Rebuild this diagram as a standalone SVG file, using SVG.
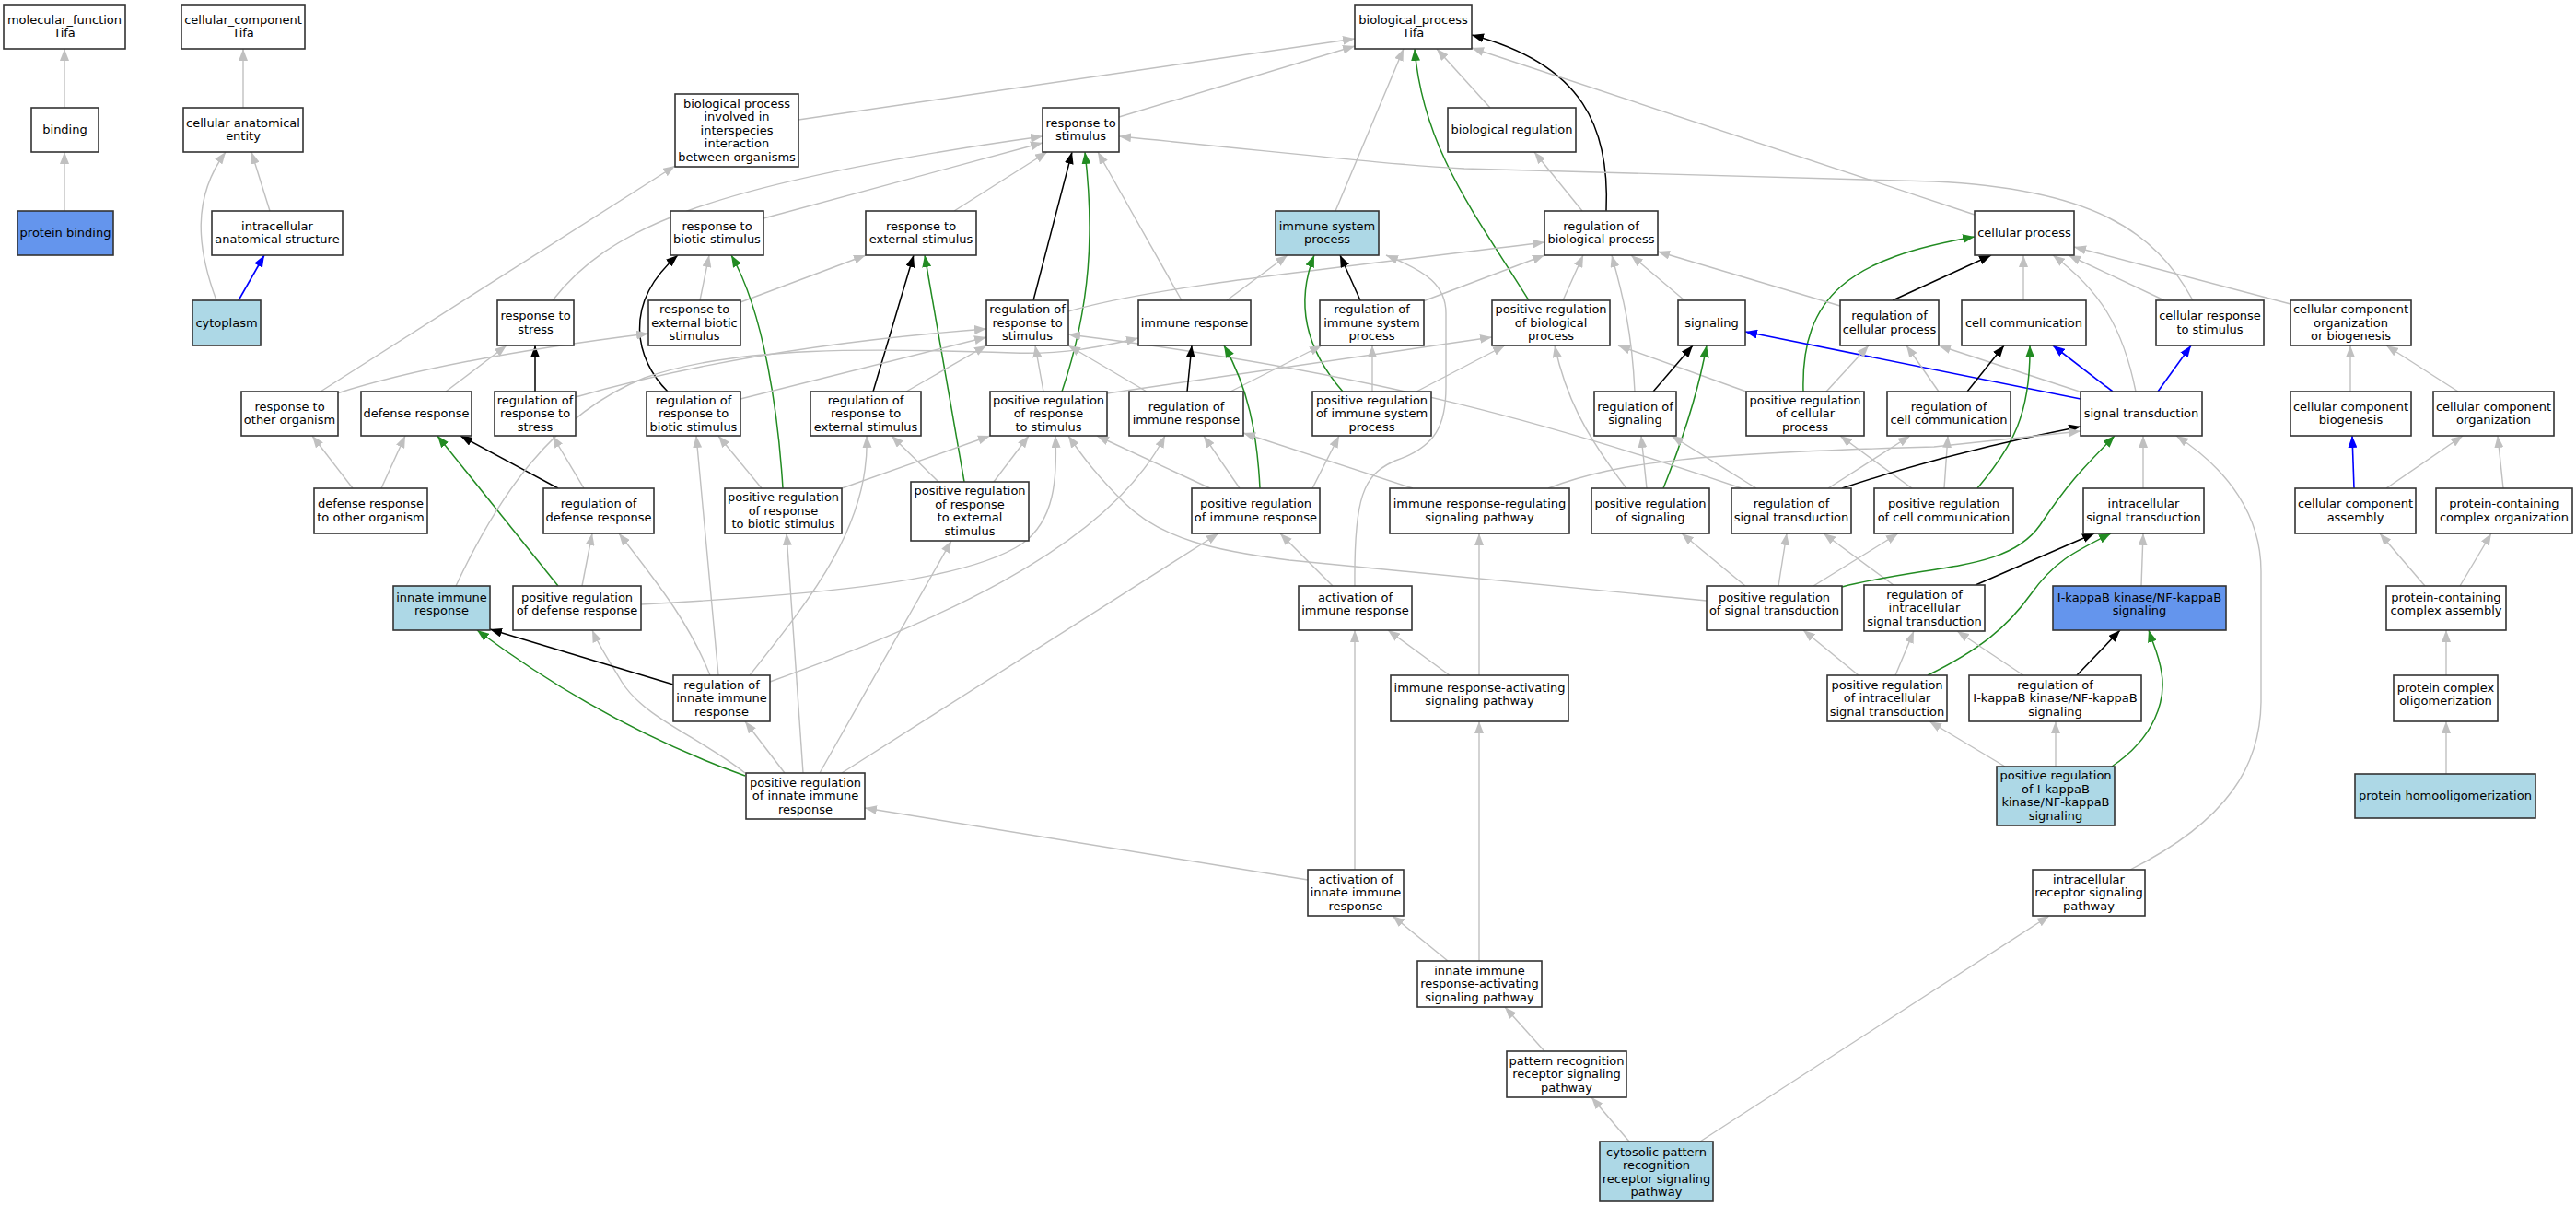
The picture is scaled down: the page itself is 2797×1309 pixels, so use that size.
<svg xmlns="http://www.w3.org/2000/svg" width="2797" height="1309" viewBox="0 0 2797 1309">
<style>
text{font-family:"DejaVu Sans",sans-serif;font-size:13px;text-anchor:middle;fill:#000}
.node rect{fill:#fff;stroke:#333;stroke-width:1.6}
.node.lb rect{fill:#add8e6}
.node.cb rect{fill:#6495ed}
#edges path{fill:none}
.e{stroke:#c0c0c0;stroke-width:1.4;marker-end:url(#ae)}
.k{stroke:#000;stroke-width:1.5;marker-end:url(#ak)}
.g{stroke:#228b22;stroke-width:1.5;marker-end:url(#ag)}
.b{stroke:#0000ff;stroke-width:1.6;marker-end:url(#ab)}
</style>
<defs>
<marker id="ae" markerUnits="userSpaceOnUse" viewBox="0 0 13 10" refX="13" refY="5" markerWidth="13" markerHeight="10" orient="auto"><path d="M0,0L13,5L0,10z" fill="#c0c0c0"/></marker>
<marker id="ak" markerUnits="userSpaceOnUse" viewBox="0 0 13 10" refX="13" refY="5" markerWidth="13" markerHeight="10" orient="auto"><path d="M0,0L13,5L0,10z" fill="#000"/></marker>
<marker id="ag" markerUnits="userSpaceOnUse" viewBox="0 0 13 10" refX="13" refY="5" markerWidth="13" markerHeight="10" orient="auto"><path d="M0,0L13,5L0,10z" fill="#228b22"/></marker>
<marker id="ab" markerUnits="userSpaceOnUse" viewBox="0 0 13 10" refX="13" refY="5" markerWidth="13" markerHeight="10" orient="auto"><path d="M0,0L13,5L0,10z" fill="#0000ff"/></marker>
</defs>
<rect width="2797" height="1309" fill="#fff"/>
<g id="edges">
<path class="e" d="M70,117L70,53"/>
<path class="e" d="M70,229L70,165"/>
<path class="e" d="M264,117L264,53"/>
<path class="e" d="M235,326C214,270 208,215 245,165"/>
<path class="e" d="M293,229L273,165"/>
<path class="b" d="M259,326L287,277"/>
<path class="e" d="M867,130L1471,42"/>
<path class="e" d="M1215,127L1471,50"/>
<path class="e" d="M1450,229L1524,53"/>
<path class="g" d="M1660,326C1600,230 1545,160 1536,53"/>
<path class="e" d="M1618,117L1560,53"/>
<path class="k" d="M1744,229C1748,140 1720,70 1598,38"/>
<path class="e" d="M2144,233L1598,52"/>
<path class="e" d="M1718,229L1666,165"/>
<path class="e" d="M829,237L1132,155"/>
<path class="e" d="M1036,229L1137,165"/>
<path class="k" d="M1122,326L1164,165"/>
<path class="g" d="M1153,425C1185,330 1188,250 1178,165"/>
<path class="e" d="M1283,326L1192,165"/>
<path class="e" d="M600,326C660,250 760,200 1132,148"/>
<path class="e" d="M348,425L733,180"/>
<path class="e" d="M2381,326C2340,250 2270,205 2100,197L1590,183C1500,178 1420,168 1215,148"/>
<path class="k" d="M2055,326L2162,277"/>
<path class="e" d="M2197,326L2197,277"/>
<path class="g" d="M1958,425C1955,320 2010,280 2144,257"/>
<path class="e" d="M2319,425C2305,355 2280,315 2229,277"/>
<path class="e" d="M2350,326L2246,277"/>
<path class="e" d="M2487,330L2252,268"/>
<path class="e" d="M1160,338C1250,312 1400,297 1677,263"/>
<path class="e" d="M1545,327L1677,277"/>
<path class="e" d="M1697,326L1719,277"/>
<path class="e" d="M1775,425C1772,360 1762,320 1750,277"/>
<path class="e" d="M1829,326L1771,277"/>
<path class="e" d="M1998,332L1800,273"/>
<path class="k" d="M1477,326L1455,277"/>
<path class="g" d="M1458,425C1410,370 1410,320 1427,277"/>
<path class="e" d="M1332,326L1398,277"/>
<path class="e" d="M1471,636C1470,540 1480,515 1515,500C1560,485 1570,460 1570,420L1570,340C1570,310 1550,295 1505,277"/>
<path class="e" d="M1490,425L1490,375"/>
<path class="e" d="M1336,425L1435,375"/>
<path class="e" d="M1538,425L1634,375"/>
<path class="e" d="M1202,427L1620,366"/>
<path class="e" d="M1766,530C1720,470 1700,430 1688,375"/>
<path class="e" d="M1896,425L1757,375"/>
<path class="b" d="M2259,433L1895,360"/>
<path class="b" d="M2294,425L2229,375"/>
<path class="b" d="M2343,425L2379,375"/>
<path class="e" d="M2258,425L2105,375"/>
<path class="k" d="M1795,425L1838,375"/>
<path class="g" d="M1806,530C1830,470 1845,420 1853,375"/>
<path class="e" d="M1983,425L2029,375"/>
<path class="e" d="M2105,425L2070,375"/>
<path class="k" d="M2136,425L2176,375"/>
<path class="g" d="M2147,530C2185,485 2205,450 2204,375"/>
<path class="e" d="M2111,530L2115,473"/>
<path class="e" d="M1985,530L2074,473"/>
<path class="e" d="M1907,530L1815,473"/>
<path class="e" d="M1788,530L1782,473"/>
<path class="e" d="M2076,530L1998,473"/>
<path class="e" d="M1895,636L1826,579"/>
<path class="e" d="M1931,636L1940,579"/>
<path class="e" d="M2056,635L1980,579"/>
<path class="e" d="M1969,636L2061,579"/>
<path class="g" d="M2000,637C2100,612 2180,620 2215,570C2245,525 2260,510 2296,473"/>
<path class="e" d="M2327,530L2327,473"/>
<path class="e" d="M2313,944C2420,890 2455,830 2455,760L2455,620C2455,560 2420,510 2363,473"/>
<path class="k" d="M2000,530Q2120,490 2259,463"/>
<path class="e" d="M1681,530C1760,500 1850,492 2100,485L2259,468"/>
<path class="k" d="M2145,635L2274,579"/>
<path class="g" d="M2093,733C2150,705 2180,680 2205,645C2230,610 2250,600 2292,579"/>
<path class="e" d="M2325,636L2327,579"/>
<path class="k" d="M2255,733L2302,684"/>
<path class="g" d="M2293,832C2340,800 2352,760 2347,730C2344,710 2338,700 2333,684"/>
<path class="e" d="M2232,832L2232,783"/>
<path class="e" d="M2177,832L2095,783"/>
<path class="e" d="M2197,733L2125,685"/>
<path class="e" d="M2058,733L2078,685"/>
<path class="e" d="M2018,733L1958,684"/>
<path class="e" d="M2552,425L2552,375"/>
<path class="e" d="M2669,425L2591,375"/>
<path class="b" d="M2556,530L2554,473"/>
<path class="e" d="M2591,530L2674,473"/>
<path class="e" d="M2718,530L2712,473"/>
<path class="e" d="M2633,636L2584,579"/>
<path class="e" d="M2671,636L2705,579"/>
<path class="e" d="M2656,733L2656,684"/>
<path class="e" d="M2656,840L2656,783"/>
<path class="e" d="M484,425L550,375"/>
<path class="k" d="M581,425L581,375"/>
<path class="e" d="M760,326L770,277"/>
<path class="e" d="M804,328L940,277"/>
<path class="k" d="M725,425C690,390 675,330 736,277"/>
<path class="g" d="M850,530C845,450 830,340 794,277"/>
<path class="k" d="M948,425L992,277"/>
<path class="g" d="M1047,523L1004,277"/>
<path class="e" d="M366,427C450,400 560,380 704,362"/>
<path class="e" d="M383,530L339,473"/>
<path class="e" d="M414,530L440,473"/>
<path class="k" d="M606,530L500,473"/>
<path class="e" d="M634,530L600,473"/>
<path class="g" d="M606,636L475,473"/>
<path class="e" d="M632,636L643,579"/>
<path class="e" d="M771,733C750,680 720,640 672,579"/>
<path class="e" d="M809,839C760,800 700,780 675,740C660,715 650,700 643,684"/>
<path class="k" d="M731,743L532,683"/>
<path class="g" d="M809,842C720,810 620,760 518,684"/>
<path class="e" d="M495,636C540,540 600,450 700,410C800,375 950,378 1100,383C1160,385 1200,375 1236,367"/>
<path class="e" d="M625,431C750,395 900,370 1071,357"/>
<path class="e" d="M804,433L1071,366"/>
<path class="e" d="M984,425L1071,375"/>
<path class="e" d="M1133,425L1124,375"/>
<path class="e" d="M1245,425L1160,375"/>
<path class="e" d="M1891,530C1700,465 1500,405 1160,363"/>
<path class="k" d="M1289,425L1294,375"/>
<path class="g" d="M1368,530C1365,470 1355,420 1329,375"/>
<path class="e" d="M1346,530L1307,473"/>
<path class="e" d="M1534,530L1350,470"/>
<path class="e" d="M836,740C1000,680 1200,600 1265,473"/>
<path class="e" d="M827,530L780,473"/>
<path class="e" d="M780,733L756,473"/>
<path class="e" d="M1019,523L968,473"/>
<path class="e" d="M814,733C880,650 945,570 941,473"/>
<path class="e" d="M914,530L1075,473"/>
<path class="e" d="M1079,523L1117,473"/>
<path class="e" d="M1314,530L1191,473"/>
<path class="e" d="M696,656C900,645 1050,630 1110,590C1145,565 1148,520 1146,473"/>
<path class="e" d="M1853,652L1400,608C1320,598 1260,585 1220,545C1190,515 1175,495 1160,473"/>
<path class="e" d="M914,839L1323,579"/>
<path class="e" d="M1447,636L1390,579"/>
<path class="e" d="M1425,530L1454,473"/>
<path class="e" d="M852,839L809,783"/>
<path class="e" d="M872,839L854,579"/>
<path class="e" d="M890,839L1033,587"/>
<path class="e" d="M1420,955L939,877"/>
<path class="e" d="M1574,733L1507,684"/>
<path class="e" d="M1606,733L1606,579"/>
<path class="e" d="M1471,944L1471,684"/>
<path class="e" d="M1572,1043L1512,994"/>
<path class="e" d="M1606,1043L1606,783"/>
<path class="e" d="M1677,1141L1634,1093"/>
<path class="e" d="M1769,1239L1728,1191"/>
<path class="e" d="M1846,1239L2225,994"/>
</g>
<g id="n_mf" class="node"><rect x="4" y="5" width="132" height="48"/><text><tspan x="70" y="25.8">molecular_function</tspan><tspan x="70" y="40.3">Tifa</tspan></text></g>
<g id="n_cc" class="node"><rect x="197" y="5" width="134" height="48"/><text><tspan x="264" y="25.8">cellular_component</tspan><tspan x="264" y="40.3">Tifa</tspan></text></g>
<g id="n_bp" class="node"><rect x="1471" y="5" width="127" height="48"/><text><tspan x="1534.5" y="25.8">biological_process</tspan><tspan x="1534.5" y="40.3">Tifa</tspan></text></g>
<g id="n_bind" class="node"><rect x="34" y="117" width="73" height="48"/><text><tspan x="70.5" y="145">binding</tspan></text></g>
<g id="n_cae" class="node"><rect x="199" y="117" width="130" height="48"/><text><tspan x="264" y="137.8">cellular anatomical</tspan><tspan x="264" y="152.3">entity</tspan></text></g>
<g id="n_bpi" class="node"><rect x="733" y="102" width="134" height="79"/><text><tspan x="800" y="116.5">biological process</tspan><tspan x="800" y="131">involved in</tspan><tspan x="800" y="145.5">interspecies</tspan><tspan x="800" y="160">interaction</tspan><tspan x="800" y="174.5">between organisms</tspan></text></g>
<g id="n_rs" class="node"><rect x="1132" y="117" width="83" height="48"/><text><tspan x="1173.5" y="137.8">response to</tspan><tspan x="1173.5" y="152.3">stimulus</tspan></text></g>
<g id="n_breg" class="node"><rect x="1572" y="117" width="139" height="48"/><text><tspan x="1641.5" y="145">biological regulation</tspan></text></g>
<g id="n_pb" class="node cb"><rect x="19" y="229" width="104" height="48"/><text><tspan x="71" y="257">protein binding</tspan></text></g>
<g id="n_ias" class="node"><rect x="230" y="229" width="142" height="48"/><text><tspan x="301" y="249.8">intracellular</tspan><tspan x="301" y="264.3">anatomical structure</tspan></text></g>
<g id="n_rbs" class="node"><rect x="728" y="229" width="101" height="48"/><text><tspan x="778.5" y="249.8">response to</tspan><tspan x="778.5" y="264.3">biotic stimulus</tspan></text></g>
<g id="n_res" class="node"><rect x="940" y="229" width="120" height="48"/><text><tspan x="1000" y="249.8">response to</tspan><tspan x="1000" y="264.3">external stimulus</tspan></text></g>
<g id="n_isp" class="node lb"><rect x="1385" y="229" width="112" height="48"/><text><tspan x="1441" y="249.8">immune system</tspan><tspan x="1441" y="264.3">process</tspan></text></g>
<g id="n_rbp" class="node"><rect x="1677" y="229" width="123" height="48"/><text><tspan x="1738.5" y="249.8">regulation of</tspan><tspan x="1738.5" y="264.3">biological process</tspan></text></g>
<g id="n_cp" class="node"><rect x="2144" y="229" width="108" height="48"/><text><tspan x="2198" y="257">cellular process</tspan></text></g>
<g id="n_cyto" class="node lb"><rect x="209" y="326" width="74" height="49"/><text><tspan x="246" y="354.5">cytoplasm</tspan></text></g>
<g id="n_rstress" class="node"><rect x="540" y="326" width="83" height="49"/><text><tspan x="581.5" y="347.3">response to</tspan><tspan x="581.5" y="361.8">stress</tspan></text></g>
<g id="n_rebs" class="node"><rect x="704" y="326" width="100" height="49"/><text><tspan x="754" y="340">response to</tspan><tspan x="754" y="354.5">external biotic</tspan><tspan x="754" y="369">stimulus</tspan></text></g>
<g id="n_rrs" class="node"><rect x="1071" y="326" width="89" height="49"/><text><tspan x="1115.5" y="340">regulation of</tspan><tspan x="1115.5" y="354.5">response to</tspan><tspan x="1115.5" y="369">stimulus</tspan></text></g>
<g id="n_ir" class="node"><rect x="1236" y="326" width="122" height="49"/><text><tspan x="1297" y="354.5">immune response</tspan></text></g>
<g id="n_risp" class="node"><rect x="1433" y="326" width="113" height="49"/><text><tspan x="1489.5" y="340">regulation of</tspan><tspan x="1489.5" y="354.5">immune system</tspan><tspan x="1489.5" y="369">process</tspan></text></g>
<g id="n_prbp" class="node"><rect x="1620" y="326" width="128" height="49"/><text><tspan x="1684" y="340">positive regulation</tspan><tspan x="1684" y="354.5">of biological</tspan><tspan x="1684" y="369">process</tspan></text></g>
<g id="n_sig" class="node"><rect x="1822" y="326" width="73" height="49"/><text><tspan x="1858.5" y="354.5">signaling</tspan></text></g>
<g id="n_rcp" class="node"><rect x="1998" y="326" width="107" height="49"/><text><tspan x="2051.5" y="347.3">regulation of</tspan><tspan x="2051.5" y="361.8">cellular process</tspan></text></g>
<g id="n_cc2" class="node"><rect x="2130" y="326" width="135" height="49"/><text><tspan x="2197.5" y="354.5">cell communication</tspan></text></g>
<g id="n_crs" class="node"><rect x="2341" y="326" width="117" height="49"/><text><tspan x="2399.5" y="347.3">cellular response</tspan><tspan x="2399.5" y="361.8">to stimulus</tspan></text></g>
<g id="n_ccob" class="node"><rect x="2487" y="326" width="131" height="49"/><text><tspan x="2552.5" y="340">cellular component</tspan><tspan x="2552.5" y="354.5">organization</tspan><tspan x="2552.5" y="369">or biogenesis</tspan></text></g>
<g id="n_rtoo" class="node"><rect x="262" y="425" width="105" height="48"/><text><tspan x="314.5" y="445.8">response to</tspan><tspan x="314.5" y="460.3">other organism</tspan></text></g>
<g id="n_dr" class="node"><rect x="392" y="425" width="120" height="48"/><text><tspan x="452" y="453">defense response</tspan></text></g>
<g id="n_rrstress" class="node"><rect x="537" y="425" width="88" height="48"/><text><tspan x="581" y="438.5">regulation of</tspan><tspan x="581" y="453">response to</tspan><tspan x="581" y="467.5">stress</tspan></text></g>
<g id="n_rrbs" class="node"><rect x="702" y="425" width="102" height="48"/><text><tspan x="753" y="438.5">regulation of</tspan><tspan x="753" y="453">response to</tspan><tspan x="753" y="467.5">biotic stimulus</tspan></text></g>
<g id="n_rres" class="node"><rect x="880" y="425" width="120" height="48"/><text><tspan x="940" y="438.5">regulation of</tspan><tspan x="940" y="453">response to</tspan><tspan x="940" y="467.5">external stimulus</tspan></text></g>
<g id="n_prrs" class="node"><rect x="1075" y="425" width="127" height="48"/><text><tspan x="1138.5" y="438.5">positive regulation</tspan><tspan x="1138.5" y="453">of response</tspan><tspan x="1138.5" y="467.5">to stimulus</tspan></text></g>
<g id="n_rir" class="node"><rect x="1226" y="425" width="124" height="48"/><text><tspan x="1288" y="445.8">regulation of</tspan><tspan x="1288" y="460.3">immune response</tspan></text></g>
<g id="n_prisp" class="node"><rect x="1425" y="425" width="129" height="48"/><text><tspan x="1489.5" y="438.5">positive regulation</tspan><tspan x="1489.5" y="453">of immune system</tspan><tspan x="1489.5" y="467.5">process</tspan></text></g>
<g id="n_rsig" class="node"><rect x="1731" y="425" width="89" height="48"/><text><tspan x="1775.5" y="445.8">regulation of</tspan><tspan x="1775.5" y="460.3">signaling</tspan></text></g>
<g id="n_prcp" class="node"><rect x="1896" y="425" width="128" height="48"/><text><tspan x="1960" y="438.5">positive regulation</tspan><tspan x="1960" y="453">of cellular</tspan><tspan x="1960" y="467.5">process</tspan></text></g>
<g id="n_rcc" class="node"><rect x="2049" y="425" width="134" height="48"/><text><tspan x="2116" y="445.8">regulation of</tspan><tspan x="2116" y="460.3">cell communication</tspan></text></g>
<g id="n_st" class="node"><rect x="2259" y="425" width="132" height="48"/><text><tspan x="2325" y="453">signal transduction</tspan></text></g>
<g id="n_ccb" class="node"><rect x="2487" y="425" width="131" height="48"/><text><tspan x="2552.5" y="445.8">cellular component</tspan><tspan x="2552.5" y="460.3">biogenesis</tspan></text></g>
<g id="n_cco" class="node"><rect x="2642" y="425" width="131" height="48"/><text><tspan x="2707.5" y="445.8">cellular component</tspan><tspan x="2707.5" y="460.3">organization</tspan></text></g>
<g id="n_drtoo" class="node"><rect x="341" y="530" width="123" height="49"/><text><tspan x="402.5" y="551.3">defense response</tspan><tspan x="402.5" y="565.8">to other organism</tspan></text></g>
<g id="n_rdr" class="node"><rect x="590" y="530" width="120" height="49"/><text><tspan x="650" y="551.3">regulation of</tspan><tspan x="650" y="565.8">defense response</tspan></text></g>
<g id="n_prrbs" class="node"><rect x="787" y="530" width="127" height="49"/><text><tspan x="850.5" y="544">positive regulation</tspan><tspan x="850.5" y="558.5">of response</tspan><tspan x="850.5" y="573">to biotic stimulus</tspan></text></g>
<g id="n_prres" class="node"><rect x="989" y="523" width="128" height="64"/><text><tspan x="1053" y="537.3">positive regulation</tspan><tspan x="1053" y="551.8">of response</tspan><tspan x="1053" y="566.3">to external</tspan><tspan x="1053" y="580.8">stimulus</tspan></text></g>
<g id="n_prir" class="node"><rect x="1294" y="530" width="139" height="49"/><text><tspan x="1363.5" y="551.3">positive regulation</tspan><tspan x="1363.5" y="565.8">of immune response</tspan></text></g>
<g id="n_irrsp" class="node"><rect x="1509" y="530" width="195" height="49"/><text><tspan x="1606.5" y="551.3">immune response-regulating</tspan><tspan x="1606.5" y="565.8">signaling pathway</tspan></text></g>
<g id="n_prsig" class="node"><rect x="1728" y="530" width="128" height="49"/><text><tspan x="1792" y="551.3">positive regulation</tspan><tspan x="1792" y="565.8">of signaling</tspan></text></g>
<g id="n_rst" class="node"><rect x="1880" y="530" width="130" height="49"/><text><tspan x="1945" y="551.3">regulation of</tspan><tspan x="1945" y="565.8">signal transduction</tspan></text></g>
<g id="n_prcc" class="node"><rect x="2035" y="530" width="151" height="49"/><text><tspan x="2110.5" y="551.3">positive regulation</tspan><tspan x="2110.5" y="565.8">of cell communication</tspan></text></g>
<g id="n_ist" class="node"><rect x="2262" y="530" width="131" height="49"/><text><tspan x="2327.5" y="551.3">intracellular</tspan><tspan x="2327.5" y="565.8">signal transduction</tspan></text></g>
<g id="n_cca" class="node"><rect x="2492" y="530" width="131" height="49"/><text><tspan x="2557.5" y="551.3">cellular component</tspan><tspan x="2557.5" y="565.8">assembly</tspan></text></g>
<g id="n_pcco" class="node"><rect x="2645" y="530" width="148" height="49"/><text><tspan x="2719" y="551.3">protein-containing</tspan><tspan x="2719" y="565.8">complex organization</tspan></text></g>
<g id="n_iir" class="node lb"><rect x="427" y="636" width="105" height="48"/><text><tspan x="479.5" y="652.8">innate immune</tspan><tspan x="479.5" y="667.3">response</tspan></text></g>
<g id="n_prdr" class="node"><rect x="557" y="636" width="139" height="48"/><text><tspan x="626.5" y="652.8">positive regulation</tspan><tspan x="626.5" y="667.3">of defense response</tspan></text></g>
<g id="n_air" class="node"><rect x="1410" y="636" width="123" height="48"/><text><tspan x="1471.5" y="652.8">activation of</tspan><tspan x="1471.5" y="667.3">immune response</tspan></text></g>
<g id="n_prst" class="node"><rect x="1853" y="636" width="147" height="48"/><text><tspan x="1926.5" y="652.8">positive regulation</tspan><tspan x="1926.5" y="667.3">of signal transduction</tspan></text></g>
<g id="n_rist" class="node"><rect x="2024" y="635" width="131" height="50"/><text><tspan x="2089.5" y="649.5">regulation of</tspan><tspan x="2089.5" y="664">intracellular</tspan><tspan x="2089.5" y="678.5">signal transduction</tspan></text></g>
<g id="n_ikb" class="node cb"><rect x="2229" y="636" width="188" height="48"/><text><tspan x="2323" y="652.8">I-kappaB kinase/NF-kappaB</tspan><tspan x="2323" y="667.3">signaling</tspan></text></g>
<g id="n_pcca" class="node"><rect x="2591" y="636" width="130" height="48"/><text><tspan x="2656" y="652.8">protein-containing</tspan><tspan x="2656" y="667.3">complex assembly</tspan></text></g>
<g id="n_riir" class="node"><rect x="731" y="733" width="105" height="50"/><text><tspan x="783.5" y="747.5">regulation of</tspan><tspan x="783.5" y="762">innate immune</tspan><tspan x="783.5" y="776.5">response</tspan></text></g>
<g id="n_irasp" class="node"><rect x="1510" y="733" width="193" height="50"/><text><tspan x="1606.5" y="750.8">immune response-activating</tspan><tspan x="1606.5" y="765.3">signaling pathway</tspan></text></g>
<g id="n_prist" class="node"><rect x="1984" y="733" width="130" height="50"/><text><tspan x="2049" y="747.5">positive regulation</tspan><tspan x="2049" y="762">of intracellular</tspan><tspan x="2049" y="776.5">signal transduction</tspan></text></g>
<g id="n_rikb" class="node"><rect x="2138" y="733" width="187" height="50"/><text><tspan x="2231.5" y="747.5">regulation of</tspan><tspan x="2231.5" y="762">I-kappaB kinase/NF-kappaB</tspan><tspan x="2231.5" y="776.5">signaling</tspan></text></g>
<g id="n_pco" class="node"><rect x="2599" y="733" width="113" height="50"/><text><tspan x="2655.5" y="750.8">protein complex</tspan><tspan x="2655.5" y="765.3">oligomerization</tspan></text></g>
<g id="n_priir" class="node"><rect x="810" y="839" width="129" height="50"/><text><tspan x="874.5" y="853.5">positive regulation</tspan><tspan x="874.5" y="868">of innate immune</tspan><tspan x="874.5" y="882.5">response</tspan></text></g>
<g id="n_prikb" class="node lb"><rect x="2168" y="832" width="128" height="64"/><text><tspan x="2232" y="846.3">positive regulation</tspan><tspan x="2232" y="860.8">of I-kappaB</tspan><tspan x="2232" y="875.3">kinase/NF-kappaB</tspan><tspan x="2232" y="889.8">signaling</tspan></text></g>
<g id="n_pho" class="node lb"><rect x="2557" y="840" width="196" height="48"/><text><tspan x="2655" y="868">protein homooligomerization</tspan></text></g>
<g id="n_aiir" class="node"><rect x="1420" y="944" width="104" height="50"/><text><tspan x="1472" y="958.5">activation of</tspan><tspan x="1472" y="973">innate immune</tspan><tspan x="1472" y="987.5">response</tspan></text></g>
<g id="n_irsp" class="node"><rect x="2207" y="944" width="122" height="50"/><text><tspan x="2268" y="958.5">intracellular</tspan><tspan x="2268" y="973">receptor signaling</tspan><tspan x="2268" y="987.5">pathway</tspan></text></g>
<g id="n_iirasp" class="node"><rect x="1539" y="1043" width="135" height="50"/><text><tspan x="1606.5" y="1057.5">innate immune</tspan><tspan x="1606.5" y="1072">response-activating</tspan><tspan x="1606.5" y="1086.5">signaling pathway</tspan></text></g>
<g id="n_prrsp" class="node"><rect x="1636" y="1141" width="130" height="50"/><text><tspan x="1701" y="1155.5">pattern recognition</tspan><tspan x="1701" y="1170">receptor signaling</tspan><tspan x="1701" y="1184.5">pathway</tspan></text></g>
<g id="n_cprrsp" class="node lb"><rect x="1737" y="1239" width="123" height="65"/><text><tspan x="1798.5" y="1254.8">cytosolic pattern</tspan><tspan x="1798.5" y="1269.3">recognition</tspan><tspan x="1798.5" y="1283.8">receptor signaling</tspan><tspan x="1798.5" y="1298.3">pathway</tspan></text></g>
</svg>
